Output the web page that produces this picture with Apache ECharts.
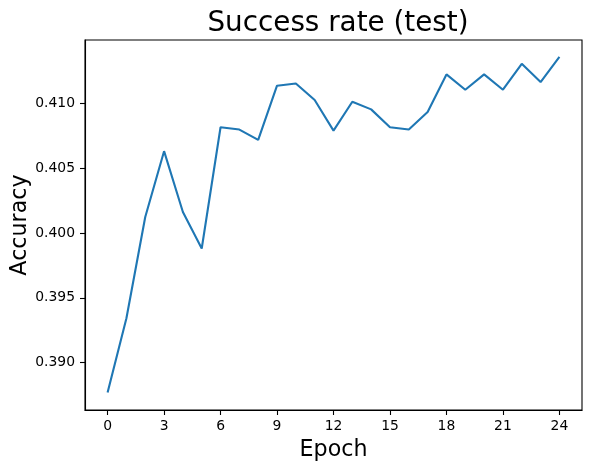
<!DOCTYPE html>
<html>
<head>
<meta charset="utf-8">
<script src="https://cdn.jsdelivr.net/npm/echarts@6/dist/echarts.min.js"></script>
<style>
  html, body { margin: 0; padding: 0; background: #fff; }
  #chart { width: 590px; height: 469px; }
</style>
</head>
<body>
<div id="chart"></div>
<script>
// values
var epochs = [0, 1, 2, 3, 4, 5, 6, 7, 8, 9, 10, 11, 12, 13, 14, 15, 16, 17, 18, 19, 20, 21, 22, 23, 24];
var accuracy = [
  0.38769, 0.39342, 0.40124, 0.40633, 0.40163, 0.39881, 0.40818, 0.40800,
  0.40720, 0.41139, 0.41156, 0.41028, 0.40792, 0.41015, 0.40956, 0.40818,
  0.40800, 0.40936, 0.41226, 0.41108, 0.41226, 0.41108, 0.41308, 0.41167,
  0.41362
];
var xTicks = [0, 3, 6, 9, 12, 15, 18, 21, 24];
var yTicks = [0.390, 0.395, 0.400, 0.405, 0.410];

var chart = echarts.init(document.getElementById("chart"));
var font = "DejaVu Sans";

chart.setOption({
  animation: false,
  textStyle: { fontFamily: font, color: "#000" },
  title: {
    text: "Success rate (test)",
    left: 333,
    textAlign: "center",
    top: 5,
    textStyle: { fontFamily: font, fontSize: 27.8, fontWeight: "normal", color: "#000" },
  },
  grid: {
    left: 85,
    top: 40,
    width: 497,
    height: 370,
    outerBoundsMode: "none",
    containLabel: false,
    show: true,
    borderColor: "#000",
    borderWidth: 1.1,
  },
  xAxis: {
    type: "value",
    min: -1.2,
    max: 25.2,
    name: "Epoch",
    nameLocation: "middle",
    nameGap: 29,
    nameMoveOverlap: false,
    nameTextStyle: { fontFamily: font, fontSize: 22.2, color: "#000" },
    axisLine: { show: true, onZero: false, lineStyle: { color: "#000", width: 1.1 } },
    axisTick: { show: true, length: 5, customValues: xTicks, lineStyle: { color: "#000", width: 1.1 } },
    axisLabel: { customValues: xTicks, margin: 9, fontSize: 13.9, color: "#000", fontFamily: font },
    splitLine: { show: false },
  },
  yAxis: {
    type: "value",
    min: 0.38633,
    max: 0.41492,
    name: "Accuracy",
    nameLocation: "middle",
    nameGap: 54,
    nameMoveOverlap: false,
    nameTextStyle: { fontFamily: font, fontSize: 22.2, color: "#000" },
    axisLine: { show: true, onZero: false, lineStyle: { color: "#000", width: 1.1 } },
    axisTick: { show: true, length: 5, customValues: yTicks, lineStyle: { color: "#000", width: 1.1 } },
    axisLabel: {
      customValues: yTicks,
      margin: 10,
      fontSize: 13.9,
      color: "#000",
      fontFamily: font,
      formatter: function (v) { return v.toFixed(3); },
    },
    splitLine: { show: false },
  },
  series: [
    {
      type: "line",
      data: epochs.map(function (e, i) { return [e, accuracy[i]]; }),
      showSymbol: false,
      symbol: "none",
      lineStyle: { color: "#1f77b4", width: 2.1 },
      color: "#1f77b4",
    },
  ],
});
</script>
</body>
</html>
